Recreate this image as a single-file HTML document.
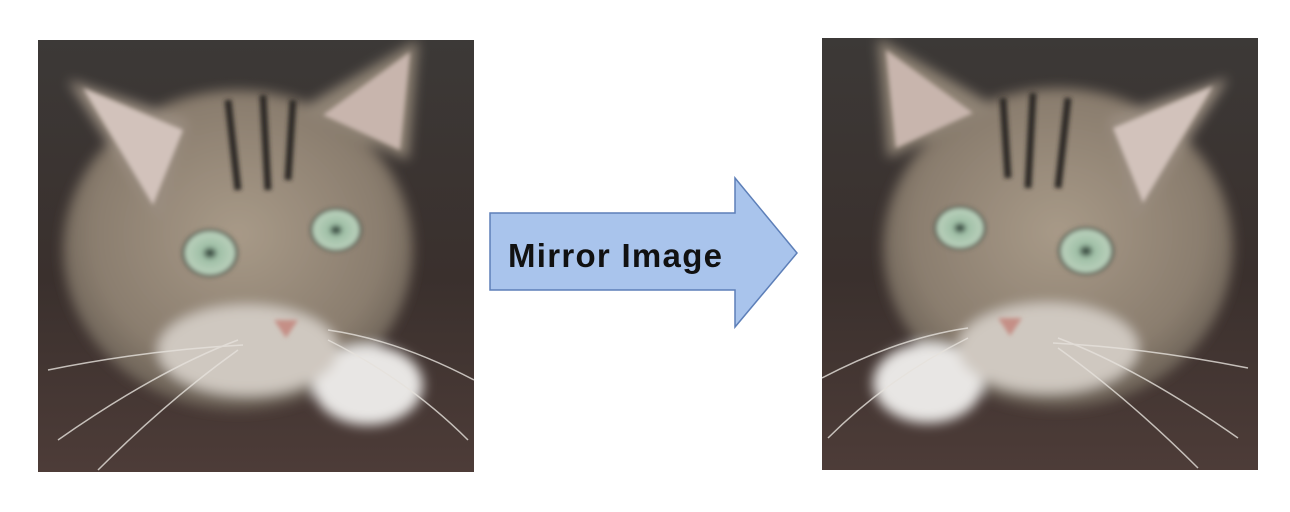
<!DOCTYPE html>
<html><head><meta charset="utf-8"><style>
html,body{margin:0;padding:0;background:#fff;width:1290px;height:512px;overflow:hidden}
svg{display:block}
</style></head><body>
<svg width="1290" height="512" viewBox="0 0 1290 512">
<defs>
<clipPath id="clip"><rect x="0" y="0" width="436" height="432"/></clipPath>
<linearGradient id="bg" x1="0" y1="0" x2="0" y2="1">
<stop offset="0" stop-color="#3c3937"/><stop offset="0.55" stop-color="#3a302d"/><stop offset="1" stop-color="#4d3c38"/>
</linearGradient>
<radialGradient id="fur" cx="0.5" cy="0.45" r="0.6">
<stop offset="0" stop-color="#a89a88"/><stop offset="0.7" stop-color="#8a7d6e"/><stop offset="1" stop-color="#5e554c"/>
</radialGradient>
<radialGradient id="eye" cx="0.5" cy="0.5" r="0.5">
<stop offset="0" stop-color="#1d2a24"/><stop offset="0.3" stop-color="#9fbfa6"/><stop offset="0.85" stop-color="#b9d0bb"/><stop offset="1" stop-color="#2a2a24"/>
</radialGradient>
<filter id="blur"><feGaussianBlur stdDeviation="6"/></filter>
<filter id="blur2"><feGaussianBlur stdDeviation="2"/></filter>
<g id="cat">
<g clip-path="url(#clip)">
<rect x="0" y="0" width="436" height="432" fill="url(#bg)"/>
<g filter="url(#blur)">
<ellipse cx="200" cy="210" rx="175" ry="160" fill="url(#fur)"/>
<path d="M30 40 L150 80 L120 180 Z" fill="#9a8d80"/>
<path d="M380 0 L370 120 L260 70 Z" fill="#8f8375"/>
<ellipse cx="330" cy="345" rx="55" ry="40" fill="#e8e6e4"/>
<ellipse cx="210" cy="310" rx="90" ry="45" fill="#cfc8c0"/>
</g>
<g filter="url(#blur2)">
<path d="M45 48 L145 90 L115 165 Z" fill="#d2c2bb"/>
<path d="M372 12 L362 110 L285 75 Z" fill="#c8b5ad"/>
<path d="M190 60 L200 150 M225 55 L230 150 M255 60 L250 140" stroke="#2e2b28" stroke-width="7" fill="none"/>
<ellipse cx="172" cy="213" rx="28" ry="24" fill="url(#eye)"/>
<ellipse cx="298" cy="190" rx="26" ry="22" fill="url(#eye)"/>
<path d="M236 280 L260 280 L248 298 Z" fill="#c58f86"/>
</g>
<g stroke="#e6e2dc" stroke-width="1.5" fill="none" opacity="0.8">
<path d="M200 300 Q120 330 20 400"/><path d="M200 310 Q130 360 60 430"/><path d="M205 305 Q110 310 10 330"/>
<path d="M290 290 Q360 300 436 340"/><path d="M290 300 Q370 340 430 400"/>
</g>
</g>
</g>
</defs>
<use href="#cat" x="38" y="40"/>
<use href="#cat" transform="translate(1258,38) scale(-1,1)"/>
<g>
<path d="M490 213 L735 213 L735 178 L797 253 L735 327 L735 290 L490 290 Z" fill="#a9c4ec" stroke="#5d7fb8" stroke-width="1.5"/>
<text x="615" y="267" text-anchor="middle" textLength="214" font-family="Liberation Sans, sans-serif" font-weight="bold" font-size="33" fill="#111">Mirror Image</text>
</g>
</svg>
</body></html>
